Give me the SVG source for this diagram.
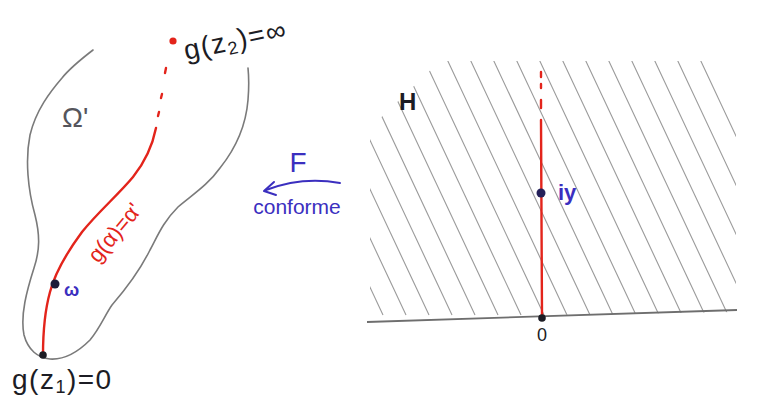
<svg xmlns="http://www.w3.org/2000/svg" width="764" height="398" viewBox="0 0 764 398">
<style>
.outline{fill:none;stroke:#7a7a7a;stroke-width:1.6;stroke-linecap:round;stroke-linejoin:round}
.red{fill:none;stroke:#e3241b;stroke-width:2.4;stroke-linecap:round}
.hatch line{stroke:#9a9a9a;stroke-width:1.1}
.blue{fill:#3b2fbf;font-family:"Liberation Sans",Arial,sans-serif}
.dark{fill:#1c1c24;font-family:"Liberation Sans",Arial,sans-serif}
.redt{fill:#e3241b;font-family:"Liberation Sans",Arial,sans-serif}
</style>
<defs>
<clipPath id="hclip"><polygon points="370,318 370,128 440,61 712,61 736,110 736,312"/></clipPath>
</defs>
<rect width="764" height="398" fill="#ffffff"/>

<g id="domain-omega">
<path class="outline" d="M93,50 C80,60 70,68 62,78 C50,92 36,110 30,135 C25,160 28,190 35,215 C40,235 40,250 34,268 C27,290 20,315 24,335 C28,350 38,358 50,359 C65,360 78,352 90,340 C100,328 105,315 112,305 C125,290 140,270 150,250 C158,235 163,222 178,207 C192,195 208,185 220,168 C236,148 246,125 248,100 C249,88 249,78 248,68"/>
<text x="62" y="127" font-size="28" fill="#55555c" font-family="'Liberation Sans',Arial,sans-serif">Ω'</text>
</g>

<g id="curve-alpha">
<path class="red" d="M43,355 C43,335 45,310 50,292 C55,273 65,255 82,232 C98,212 118,195 133,177 C145,162 152,148 156,128"/>
<line class="red" x1="158" y1="116" x2="159" y2="112"/>
<line class="red" x1="161" y1="98" x2="162" y2="94"/>
<line class="red" x1="165" y1="73" x2="166" y2="68"/>
<text class="redt" font-size="22" transform="translate(98,264) rotate(-50)">g(α)=α'</text>
</g>

<g id="point-z2">
<circle cx="173" cy="41" r="3.6" fill="#e3241b"/>
<text class="dark" font-size="28" letter-spacing="1.5" transform="translate(186,60) rotate(-12)">g(z<tspan font-size="18" dy="4">2</tspan><tspan dy="-4">)=∞</tspan></text>
</g>

<g id="point-w">
<circle cx="55" cy="284" r="4.5" fill="#1c1c3a"/>
<text class="blue" x="64" y="296" font-size="18" font-weight="bold">ω</text>
</g>

<g id="point-z1">
<circle cx="43" cy="355" r="3.8" fill="#1c1c24"/>
<text class="dark" x="12" y="389" font-size="28" letter-spacing="1.5">g(z<tspan font-size="18" dy="4">1</tspan><tspan dy="-4">)=0</tspan></text>
</g>

<g id="connectors">
<path d="M340,183 C318,179 292,180 266,190" fill="none" stroke="#3b2fbf" stroke-width="2" stroke-linecap="round"/>
<path d="M274,182 L264,191 L276,195" fill="none" stroke="#3b2fbf" stroke-width="2" stroke-linecap="round" stroke-linejoin="round"/>
<text class="blue" x="298" y="172" font-size="28" text-anchor="middle">F</text>
<text class="blue" x="297" y="214" font-size="21" text-anchor="middle">conforme</text>
</g>

<g id="half-plane-H">
<g class="hatch" clip-path="url(#hclip)">
<line x1="254" y1="40" x2="383" y2="315"/>
<line x1="277" y1="40" x2="406" y2="315"/>
<line x1="300" y1="40" x2="429" y2="315"/>
<line x1="323" y1="40" x2="452" y2="315"/>
<line x1="346" y1="40" x2="475" y2="315"/>
<line x1="369" y1="40" x2="498" y2="315"/>
<line x1="392" y1="40" x2="521" y2="315"/>
<line x1="415" y1="40" x2="544" y2="315"/>
<line x1="438" y1="40" x2="567" y2="315"/>
<line x1="461" y1="40" x2="590" y2="315"/>
<line x1="484" y1="40" x2="613" y2="315"/>
<line x1="507" y1="40" x2="636" y2="315"/>
<line x1="530" y1="40" x2="659" y2="315"/>
<line x1="553" y1="40" x2="682" y2="315"/>
<line x1="576" y1="40" x2="705" y2="315"/>
<line x1="599" y1="40" x2="728" y2="315"/>
<line x1="622" y1="40" x2="751" y2="315"/>
<line x1="645" y1="40" x2="774" y2="315"/>
<line x1="668" y1="40" x2="797" y2="315"/>
<line x1="691" y1="40" x2="820" y2="315"/>
</g>
<line x1="367" y1="322" x2="737" y2="310" stroke="#6e6e6e" stroke-width="1.8"/>
<text class="dark" x="399" y="110" font-size="24" font-weight="bold">H</text>
</g>

<g id="ray-iy">
<line class="red" x1="541" y1="120" x2="542" y2="316"/>
<line class="red" x1="541" y1="72" x2="541" y2="77"/>
<line class="red" x1="541" y1="84" x2="541" y2="88"/>
<line class="red" x1="541" y1="100" x2="541" y2="108"/>
</g>

<g id="point-iy">
<circle cx="541" cy="193" r="4.5" fill="#25205a"/>
<text class="blue" x="558" y="200" font-size="22" font-weight="bold">iy</text>
</g>

<g id="point-0">
<circle cx="542" cy="318" r="3.8" fill="#1c1c24"/>
<text class="dark" x="542" y="341" font-size="18" text-anchor="middle">0</text>
</g>
</svg>
